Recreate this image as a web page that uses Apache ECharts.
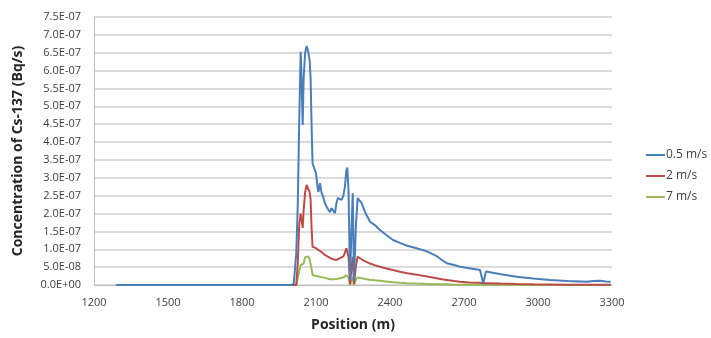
<!DOCTYPE html>
<html>
<head>
<meta charset="utf-8">
<script src="https://cdn.jsdelivr.net/npm/echarts@6/dist/echarts.min.js"></script>
<style>
  html, body { margin: 0; padding: 0; background: #ffffff; }
  #chart { width: 711px; height: 338px; }
</style>
</head>
<body>
<div id="chart"></div>
<script>
// Position along the path (m)
const positions = [
  1290, 2000, 2010, 2020, 2026, 2032, 2038, 2042, 2046, 2050, 2056, 2062, 2068, 2074, 2078, 2082,
  2086, 2094, 2100, 2106, 2110, 2116, 2123, 2130, 2136, 2146, 2157, 2163, 2169, 2177, 2183, 2189,
  2197, 2204, 2211, 2217, 2223, 2227, 2232, 2238, 2244, 2249, 2254, 2262, 2269, 2277, 2285, 2300,
  2319, 2340, 2359, 2385, 2412, 2440, 2470, 2508, 2550, 2589, 2610, 2630, 2660, 2684, 2720, 2765,
  2778, 2789, 2850, 2913, 2980, 3048, 3120, 3197, 3225, 3251, 3275, 3295
];

// Concentration of Cs-137 (units of 1E-07 Bq/s) for each wind speed
const wind05 = [
  0, 0, 0.05, 0.9, 2.2, 4.6, 6.53, 5.6, 4.48, 5.8, 6.5, 6.69, 6.55, 6.3, 5.8, 4.5,
  3.4, 3.25, 3.13, 2.75, 2.6, 2.85, 2.57, 2.45, 2.29, 2.15, 2.04, 2.15, 2.15, 2.01, 2.3, 2.43,
  2.40, 2.38, 2.5, 2.74, 3.2, 3.29, 2.6, 0.14, 1.6, 2.57, 0.1, 1.7, 2.43, 2.38, 2.29, 2.02,
  1.77, 1.67, 1.54, 1.40, 1.26, 1.18, 1.10, 1.03, 0.94, 0.81, 0.70, 0.61, 0.56, 0.51, 0.47, 0.42,
  0.05, 0.38, 0.30, 0.23, 0.18, 0.14, 0.11, 0.09, 0.11, 0.12, 0.10, 0.09
];
const wind2 = [
  0, 0, 0, 0, 0.6, 1.7, 2.0, 1.8, 1.6, 2.1, 2.6, 2.8, 2.75, 2.6, 2.4, 1.6,
  1.07, 1.05, 1.03, 1.0, 0.98, 0.95, 0.92, 0.88, 0.84, 0.80, 0.76, 0.74, 0.72, 0.70, 0.70, 0.72,
  0.75, 0.78, 0.80, 0.9, 1.03, 0.98, 0.79, 0.02, 0.5, 0.79, 0.02, 0.55, 0.79, 0.76, 0.72, 0.66,
  0.6, 0.55, 0.51, 0.46, 0.42, 0.37, 0.33, 0.29, 0.24, 0.19, 0.16, 0.14, 0.11, 0.09, 0.07, 0.06,
  0.05, 0.05, 0.04, 0.03, 0.02, 0.015, 0.01, 0.01, 0.01, 0.01, 0.01, 0.01
];
const wind7 = [
  0, 0, 0, 0, 0.05, 0.4, 0.56, 0.55, 0.51, 0.6, 0.78, 0.81, 0.80, 0.72, 0.68, 0.45,
  0.28, 0.27, 0.25, 0.24, 0.24, 0.23, 0.22, 0.21, 0.2, 0.18, 0.16, 0.17, 0.16, 0.15, 0.17, 0.18,
  0.19, 0.2, 0.21, 0.24, 0.27, 0.28, 0.2, 0.0, 0.14, 0.21, 0.0, 0.15, 0.21, 0.2, 0.19, 0.17,
  0.15, 0.13, 0.12, 0.10, 0.08, 0.06, 0.05, 0.04, 0.03, 0.02, 0.02, 0.02, 0.01, 0.01, 0.01, 0.01,
  0.0, 0.01, 0.01, 0, 0, 0, 0, 0, 0, 0, 0, 0
];

const seriesNames = ['0.5 m/s', '2 m/s', '7 m/s'];
const seriesColors = ['#4a7ebb', '#be4b48', '#98b954'];
const yScale = 1e-7;

// Excel-style scientific labels, e.g. 7.5E-07, 0.0E+00
function sciLabel(v) {
  if (Math.abs(v) < 1e-15) return '0.0E+00';
  const parts = v.toExponential(1).split('e');
  const exp = parseInt(parts[1], 10);
  const sign = exp < 0 ? '-' : '+';
  const digits = String(Math.abs(exp)).padStart(2, '0');
  return parts[0] + 'E' + sign + digits;
}

function toPairs(values) {
  return positions.map((p, i) => [p, values[i] * yScale]);
}

const chart = echarts.init(document.getElementById('chart'), null, { renderer: 'canvas' });
const fontFamily = '"Open Sans", "Liberation Sans", sans-serif';

chart.setOption({
  animation: false,
  backgroundColor: '#ffffff',
  grid: { left: 94, right: 99, top: 17, bottom: 53 },
  legend: {
    orient: 'vertical',
    left: 641,
    top: 144,
    itemGap: 9,
    itemWidth: 19,
    itemHeight: 2,
    icon: 'rect',
    textStyle: { fontFamily: fontFamily, fontSize: 12, color: '#404040', padding: [0, 0, 0, -4] },
    data: seriesNames
  },
  xAxis: {
    type: 'value',
    min: 1200,
    max: 3300,
    interval: 300,
    name: 'Position (m)',
    nameLocation: 'middle',
    nameGap: 33,
    nameTextStyle: { fontFamily: fontFamily, fontSize: 14, fontWeight: 'bold', color: '#262626' },
    axisLine: { show: true, lineStyle: { color: '#bfbfbf', width: 1 } },
    axisTick: { show: false },
    splitLine: { show: false },
    axisLabel: {
      fontFamily: fontFamily, fontSize: 11, color: '#404040', margin: 12,
      formatter: (v) => String(v)
    }
  },
  yAxis: {
    type: 'value',
    min: 0,
    max: 7.5e-7,
    interval: 5e-8,
    name: 'Concentration of Cs-137 (Bq/s)',
    nameLocation: 'middle',
    nameGap: 69,
    nameTextStyle: { fontFamily: fontFamily, fontSize: 14, fontWeight: 'bold', color: '#262626' },
    axisLine: { show: true, lineStyle: { color: '#bfbfbf', width: 1 } },
    axisTick: { show: false },
    splitLine: { show: true, lineStyle: { color: '#d0d0d0', width: 1.5 } },
    axisLabel: {
      fontFamily: fontFamily, fontSize: 11, color: '#404040', margin: 13,
      formatter: sciLabel
    }
  },
  series: [wind05, wind2, wind7].map((vals, i) => ({
    name: seriesNames[i],
    type: 'line',
    data: toPairs(vals),
    showSymbol: false,
    symbol: 'none',
    smooth: false,
    color: seriesColors[i],
    lineStyle: { color: seriesColors[i], width: 2 },
    z: 10 - i
  }))
});
</script>
</body>
</html>
